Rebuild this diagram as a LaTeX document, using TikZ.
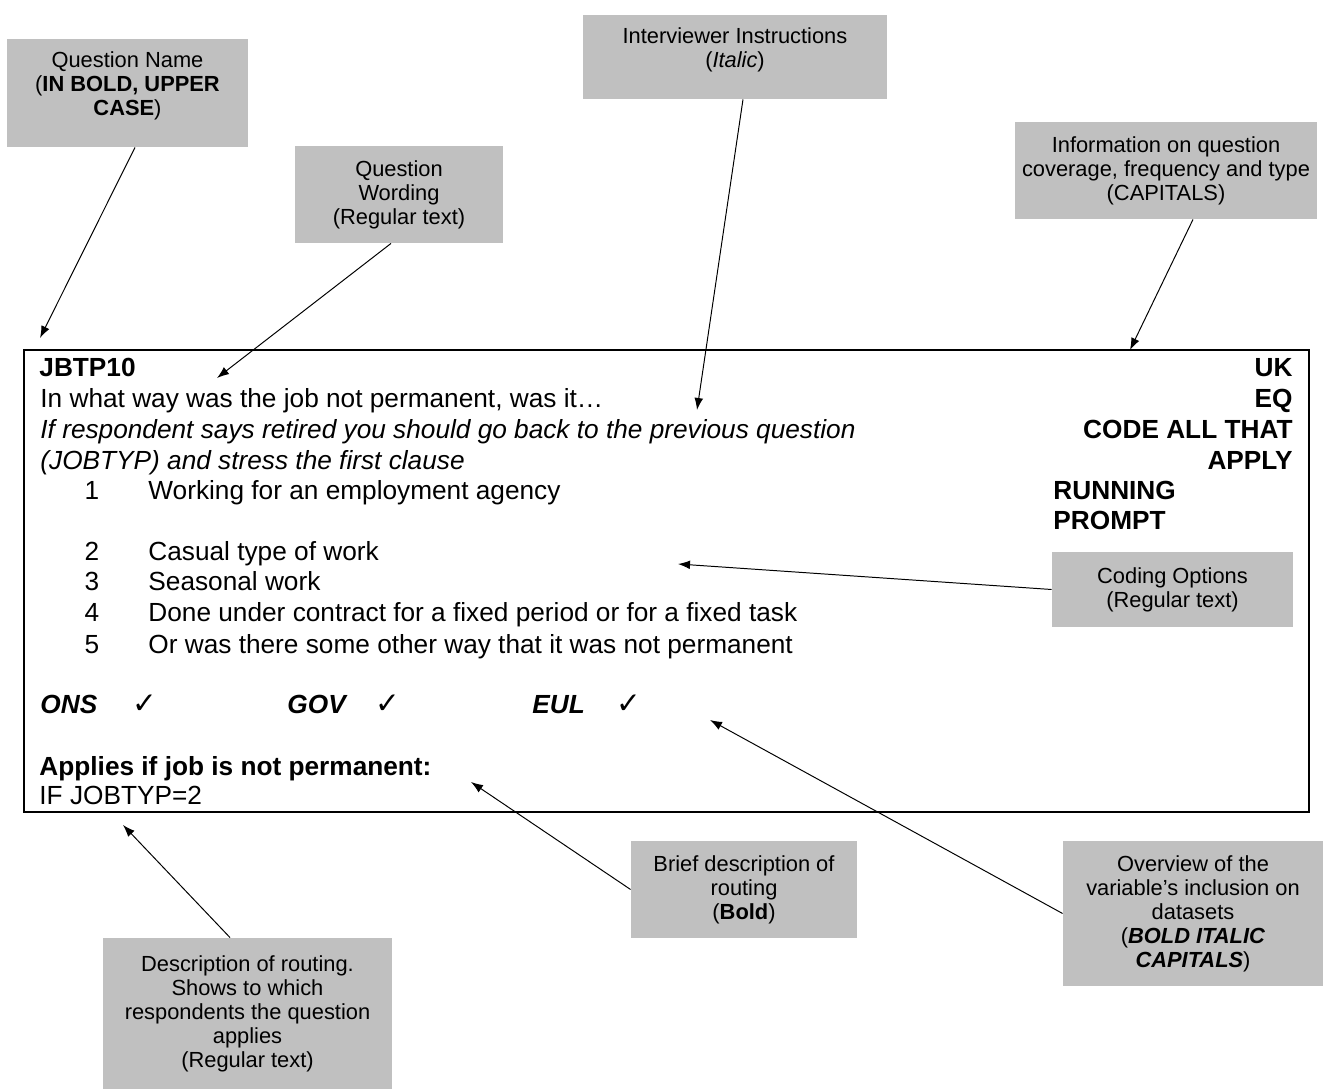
\documentclass[tikz,border=0pt,12pt]{standalone}
\usepackage{fontspec}
\setmainfont{Liberation Sans}
\newfontfamily\tickfont{DejaVu Sans}
\usetikzlibrary{
  arrows.meta,
  positioning,
}
\definecolor{calloutgray}{HTML}{C0C0C0}
\newcommand{\px}{0.4575pt}

\tikzset{
  callout/.style={fill=calloutgray, inner sep=0pt, align=center,
    font=\fontsize{10}{11}\selectfont},
  boxsize/.style 2 args={minimum width=#1*\px, minimum height=#2*\px},
  txt/.style={anchor=base west, inner sep=0pt},
  rtxt/.style={anchor=base east, inner sep=0pt},
  tick/.style={anchor=base, inner sep=0pt, font=\tickfont\fontsize{13.5}{14}\selectfont},
  pointer/.style={-{Latex[length=5.5pt,width=4pt]}, line width=0.45pt},
}

\begin{document}
\begin{tikzpicture}[x=\px, y=-\px]
      \useasboundingbox (0,0) rectangle (1323,1091);
      % the question record
      \node [draw, line width=0.9pt, inner sep=0pt, boxsize={1285}{462}] (record) at (666.5,581) {};
      \node [txt, font=\bfseries] (qname) at (39,377) {JBTP10};
      \node [txt] (wording) at (40,408) {In what way was the job not permanent, was it…};
      \node [txt, font=\itshape] (instrA) at (40,439) {If respondent says retired you should go back to the previous question};
      \node [txt, font=\itshape] (instrB) at (40,470) {(JOBTYP) and stress the first clause};
      \node [anchor=base, inner sep=0pt] (num1) at (92,500) {1};
      \node [txt] (code1) at (148,500) {Working for an employment agency};
      \node [anchor=base, inner sep=0pt] (num2) at (92,560) {2};
      \node [txt] (code2) at (148,560) {Casual type of work};
      \node [anchor=base, inner sep=0pt] (num3) at (92,591) {3};
      \node [txt] (code3) at (148,591) {Seasonal work};
      \node [anchor=base, inner sep=0pt] (num4) at (92,622) {4};
      \node [txt] (code4) at (148,622) {Done under contract for a fixed period or for a fixed task};
      \node [anchor=base, inner sep=0pt] (num5) at (92,653) {5};
      \node [txt] (code5) at (148,653) {Or was there some other way that it was not permanent};
      \node [rtxt, font=\bfseries] (cover) at (1293,377) {UK};
      \node [rtxt, font=\bfseries] (freq) at (1293,408) {EQ};
      \node [rtxt, font=\bfseries] (typeA) at (1293,439) {CODE ALL THAT};
      \node [rtxt, font=\bfseries] (typeB) at (1293,470) {APPLY};
      \node [txt, font=\bfseries] (promptA) at (1053,500) {RUNNING};
      \node [txt, font=\bfseries] (promptB) at (1053,530) {PROMPT};
      \node [txt, font=\bfseries\itshape] (ons) at (40,713) {ONS};
      \node [tick] (onsTick) at (145,713) {✓};
      \node [txt, font=\bfseries\itshape] (gov) at (287,713) {GOV};
      \node [tick] (govTick) at (388,713) {✓};
      \node [txt, font=\bfseries\itshape] (eul) at (532,713) {EUL};
      \node [tick] (eulTick) at (629,713) {✓};
      \node [txt, font=\bfseries] (routeA) at (39,775) {Applies if job is not permanent:};
      \node [txt] (routeB) at (39,804) {IF JOBTYP=2};
      % the notes round it
      \node [callout, boxsize={241}{108}, text depth=8.5pt] (qnameNote) at (127.5,93) {Question Name\\(\textbf{IN BOLD, UPPER}\\\textbf{CASE})};
      \node [callout, boxsize={208}{97}] (wordingNote) at (399,194.5) {Question\\Wording\\(Regular text)};
      \node [callout, boxsize={304}{84}, text depth=9pt] (instrNote) at (735,57) {Interviewer Instructions\\(\textit{Italic})};
      \node [callout, boxsize={302}{97}] (infoNote) at (1166,170.5) {Information on question\\coverage, frequency and type\\(CAPITALS)};
      \node [callout, boxsize={241}{75}] (codingNote) at (1172.5,589.5) {Coding Options\\(Regular text)};
      \node [callout, boxsize={226}{97}] (briefNote) at (744,889.5) {Brief description of\\routing\\(\textbf{Bold})};
      \node [callout, boxsize={260}{145}] (dataNote) at (1193,913.5) {Overview of the\\variable’s inclusion on\\datasets\\(\textbf{\textit{BOLD ITALIC}}\\\textbf{\textit{CAPITALS}})};
      \node [callout, boxsize={289}{151}] (routeNote) at (247.5,1013.5) {Description of routing.\\Shows to which\\respondents the question\\applies\\(Regular text)};
      \coordinate (nameTip) at (40,338);
      \coordinate (wordTip) at (217,378);
      \coordinate (instrTip) at (697,410);
      \coordinate (infoTip) at (1130,350);
      \coordinate (codeTip) at (678,564);
      \coordinate (dataTip) at (710,720);
      \coordinate (briefTip) at (471,782);
      \coordinate (routeTip) at (123,825);
      \draw [pointer] ([xshift=7.5*\px]qnameNote.south) to (nameTip);
      \draw [pointer] ([xshift=-8*\px]wordingNote.south) to (wordTip);
      \draw [pointer] ([xshift=8*\px]instrNote.south) to (instrTip);
      \draw [pointer] ([xshift=27*\px]infoNote.south) to (infoTip);
      \draw [pointer] (codingNote.west) to (codeTip);
      \draw [pointer] (dataNote.west) to (dataTip);
      \draw [pointer] (briefNote.west) to (briefTip);
      \draw [pointer] ([xshift=-17.5*\px]routeNote.north) to (routeTip);
    \end{tikzpicture}
\end{document}
